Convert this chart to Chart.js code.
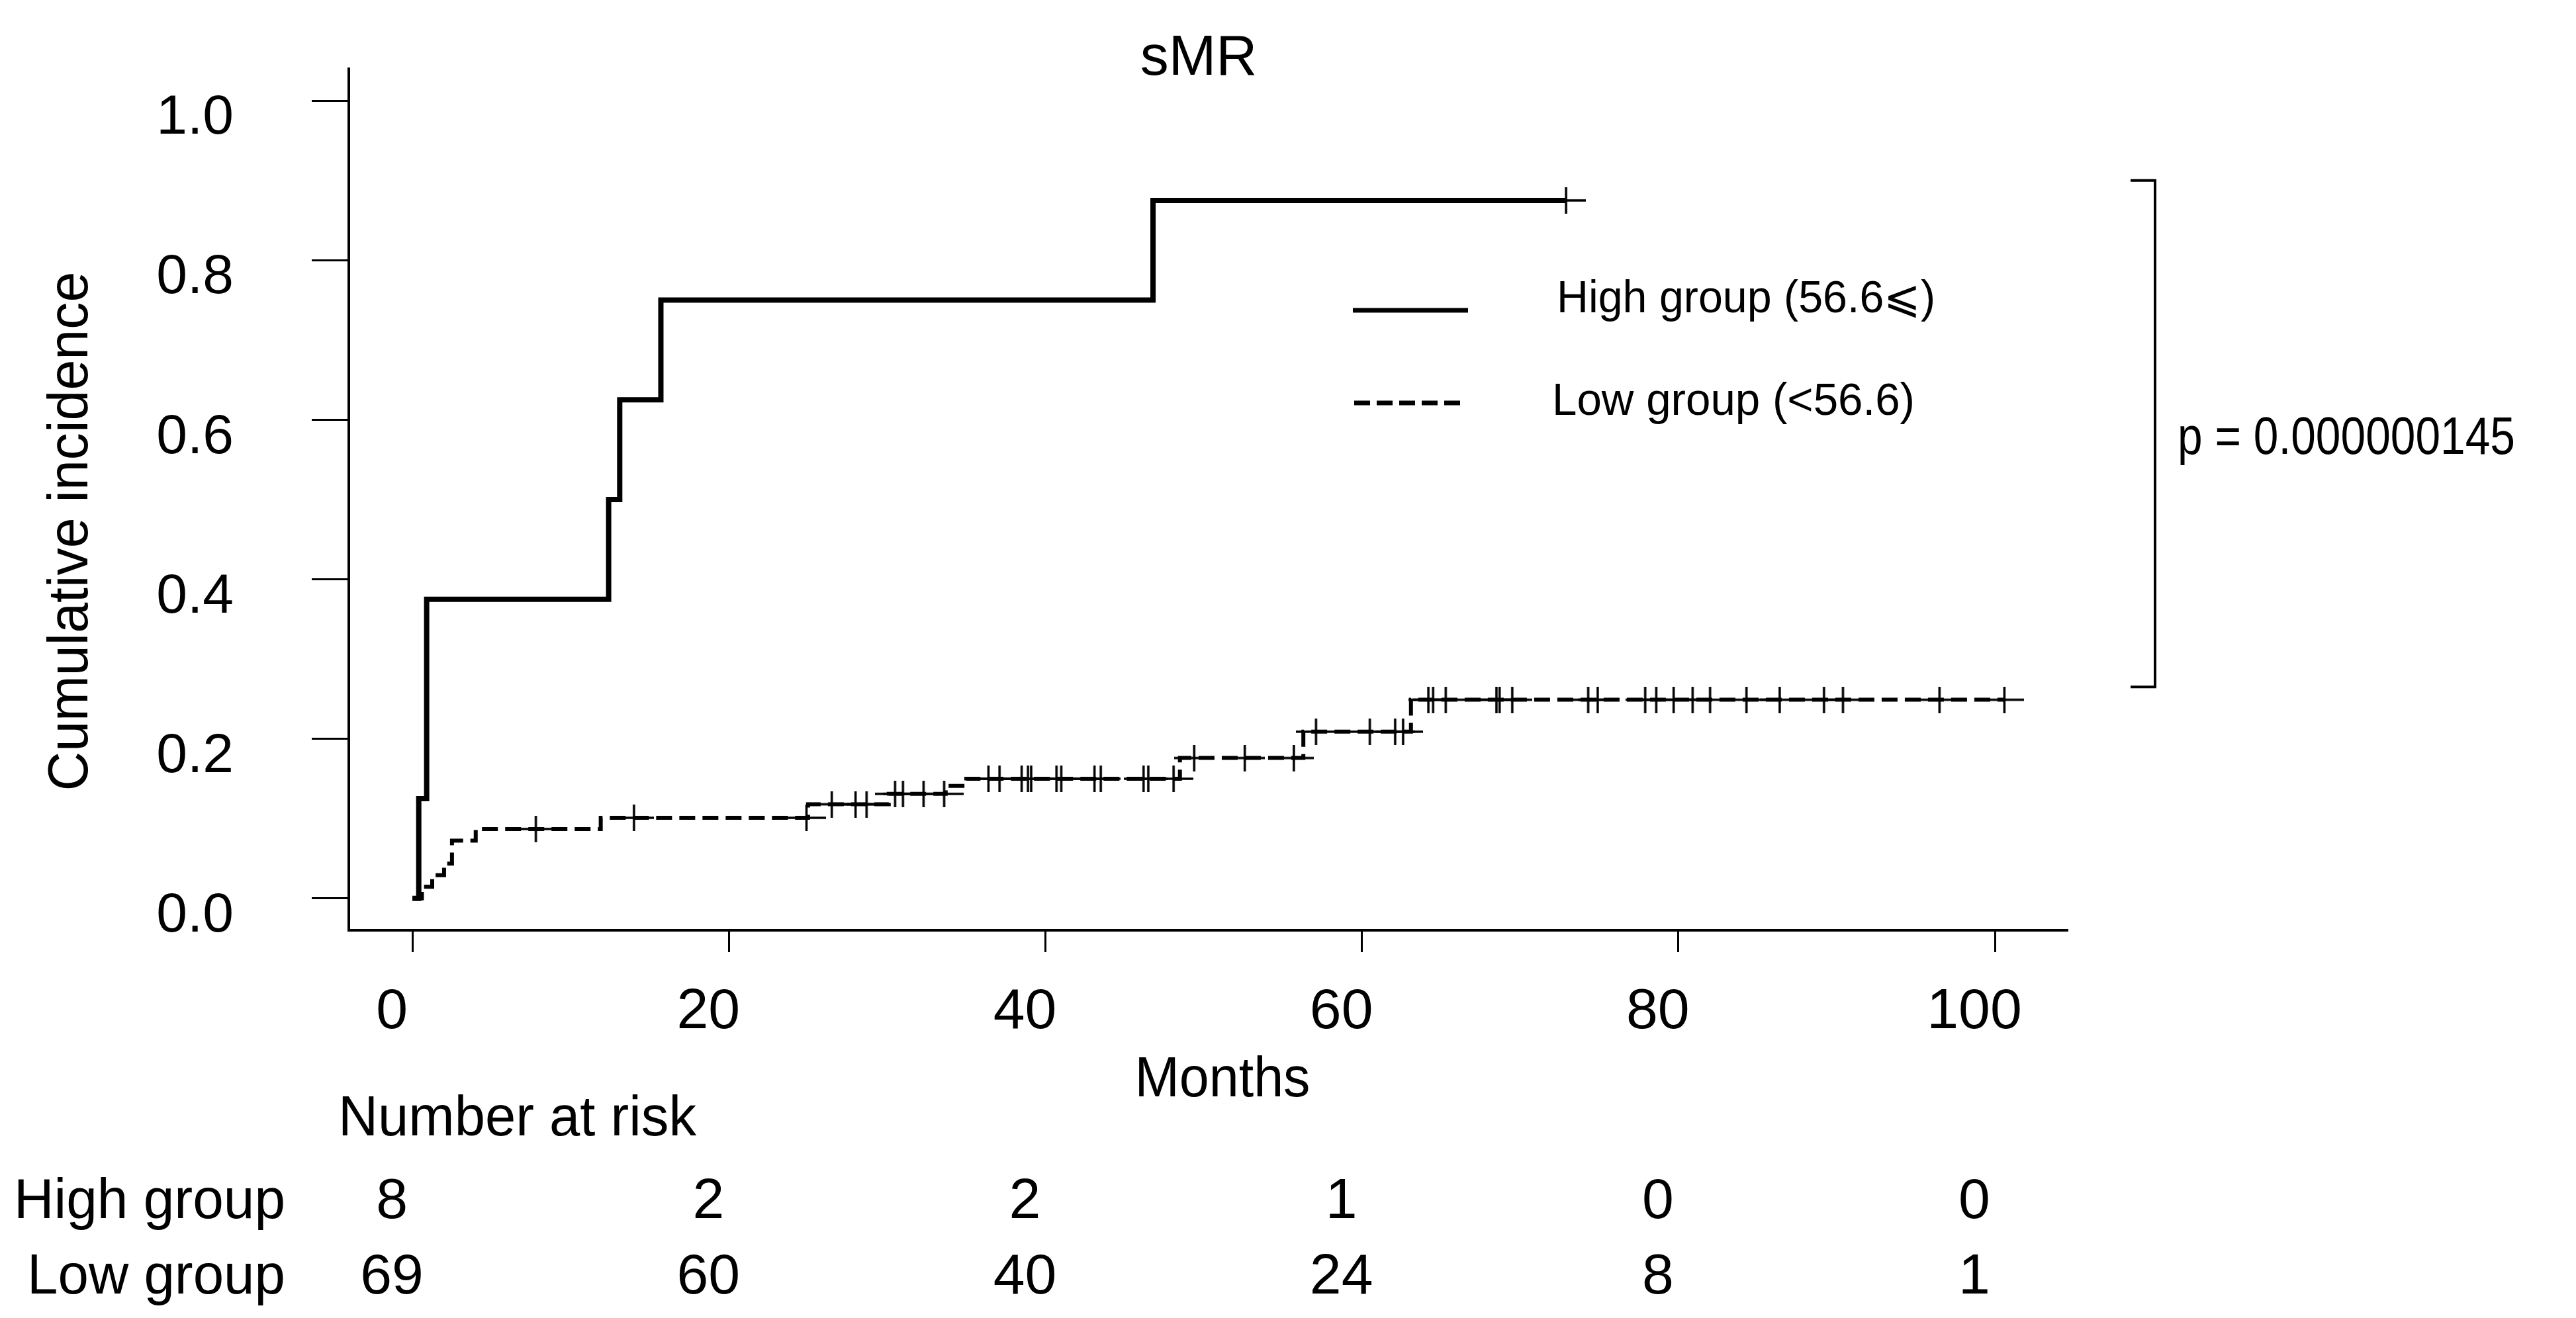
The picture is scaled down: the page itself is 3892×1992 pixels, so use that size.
<!DOCTYPE html>
<html>
<head>
<meta charset="utf-8">
<title>sMR</title>
<script src="https://cdn.jsdelivr.net/npm/chart.js@4.4.1/dist/chart.umd.min.js"></script>
<style>
html, body { margin: 0; padding: 0; background: #fff; }
#chart { display: block; }
</style>
</head>
<body>
<canvas id="chart" width="3892" height="1992"></canvas>
<script>
var xTicks = [0, 20, 40, 60, 80, 100];
var yTicks = [0, 0.2, 0.4, 0.6, 0.8, 1.0];

// High group step curve (time in months, cumulative incidence)
var highTimes = [0, 0.4, 0.9, 12.4, 13.1, 15.7, 46.8, 72.9];
var highInc = [0, 0.125, 0.375, 0.5, 0.625, 0.75, 0.875, 0.875];
var highCensor = [72.9];

// Low group step curve
var lowTimes = [0, 0.6, 1.25, 2.0, 2.5, 4.0, 11.9, 25.0, 30.1, 33.7, 35.0, 48.5, 56.3, 63.1, 100.6];
var lowInc = [0, 0.0145, 0.029, 0.0435, 0.0725, 0.087, 0.101, 0.118, 0.131, 0.141, 0.15, 0.176, 0.209, 0.249, 0.249];
var lowCensor = [7.8, 14.0, 24.9, 26.5, 28.0, 28.7, 30.5, 31.0, 32.3, 33.6, 36.4, 37.1, 38.5, 38.9, 39.1,
    40.7, 41.0, 43.1, 43.5, 46.2, 46.5, 48.1, 49.4, 52.6, 55.7, 57.1, 60.5, 62.1, 62.6, 64.2, 64.5, 65.3,
    68.5, 68.7, 69.5, 74.3, 74.9, 77.9, 78.6, 79.7, 80.9, 82.0, 84.3, 86.4, 89.2, 90.4, 96.5, 100.6];

var riskGroups = ["High group", "Low group"];
var riskHigh = [8, 2, 2, 1, 0, 0];
var riskLow = [69, 60, 40, 24, 8, 1];

var legendLabels = ["High group (56.6\u2A7D)", "Low group (<56.6)"];
var pText = "p = 0.000000145";
var bracketRange = [0.265, 0.9];

var FONT = "'Liberation Sans', Arial, 'DejaVu Sans', sans-serif";

function levelAt(times, inc, t) {
    var v = 0;
    for (var i = 0; i < times.length; i++) {
        if (times[i] <= t) v = inc[i];
    }
    return v;
}

function toPoints(times, inc) {
    var pts = [];
    for (var i = 0; i < times.length; i++) pts.push({ x: times[i], y: inc[i] });
    return pts;
}

function censorPoints(cens, times, inc) {
    return cens.map(function(t) { return { x: t, y: levelAt(times, inc, t) }; });
}

function makeCross() {
    var c = document.createElement("canvas");
    c.width = 60;
    c.height = 40;
    var g = c.getContext("2d");
    g.strokeStyle = "#000";
    g.lineWidth = 3.5;
    g.beginPath();
    g.moveTo(0, 20); g.lineTo(60, 20);
    g.moveTo(30, 0); g.lineTo(30, 40);
    g.stroke();
    return c;
}
var cross = makeCross();

var textPlugin = {
    id: "textPlugin",
    afterDraw: function(chart) {
        var ctx = chart.ctx;
        var xs = chart.scales.x;
        var ys = chart.scales.y;
        ctx.save();
        ctx.fillStyle = "#000";
        ctx.textBaseline = "alphabetic";

        // title
        ctx.font = "86px " + FONT;
        ctx.textAlign = "center";
        ctx.fillText("sMR", 1811, 113);

        // x title
        ctx.fillText("Months", 1847, 1657, 265);

        // y title
        ctx.save();
        ctx.translate(132, 803);
        ctx.rotate(-Math.PI / 2);
        ctx.textAlign = "center";
        ctx.fillText("Cumulative incidence", 0, 0, 785);
        ctx.restore();

        // number at risk
        ctx.textAlign = "left";
        ctx.fillText("Number at risk", 511, 1716, 541);
        ctx.textAlign = "right";
        ctx.fillText(riskGroups[0], 431, 1841, 410);
        ctx.fillText(riskGroups[1], 431, 1955, 390);
        ctx.textAlign = "center";
        for (var i = 0; i < xTicks.length; i++) {
            var px = xs.getPixelForValue(xTicks[i]) - 31;
            ctx.fillText(String(riskHigh[i]), px, 1841);
            ctx.fillText(String(riskLow[i]), px, 1955);
        }

        // legend
        ctx.strokeStyle = "#000";
        ctx.lineWidth = 7;
        ctx.lineCap = "butt";
        ctx.beginPath();
        ctx.moveTo(2044, 469); ctx.lineTo(2218, 469);
        ctx.stroke();
        ctx.setLineDash([24, 10]);
        ctx.beginPath();
        ctx.moveTo(2046, 609); ctx.lineTo(2210, 609);
        ctx.stroke();
        ctx.setLineDash([]);
        ctx.font = "69px " + FONT;
        ctx.textAlign = "left";
        ctx.fillText(legendLabels[0], 2352, 472, 572);
        ctx.fillText(legendLabels[1], 2345, 627, 548);

        // bracket and p value
        var yTop = ys.getPixelForValue(bracketRange[1]);
        var yBot = ys.getPixelForValue(bracketRange[0]);
        ctx.lineWidth = 4;
        ctx.beginPath();
        ctx.moveTo(3219, yTop); ctx.lineTo(3256, yTop);
        ctx.lineTo(3256, yBot); ctx.lineTo(3219, yBot);
        ctx.stroke();
        ctx.font = "80px " + FONT;
        ctx.fillText(pText, 3290, 686, 510);

        ctx.restore();
    }
};

var chart = new Chart(document.getElementById("chart").getContext("2d"), {
    type: "line",
    data: {
        datasets: [{
            label: "High",
            data: toPoints(highTimes, highInc),
            stepped: true,
            borderColor: "#000",
            borderWidth: 8,
            pointRadius: 0,
            fill: false
        }, {
            label: "Low",
            data: toPoints(lowTimes, lowInc),
            stepped: true,
            borderColor: "#000",
            borderWidth: 6,
            borderDash: [24, 11],
            pointRadius: 0,
            fill: false
        }, {
            label: "High censored",
            data: censorPoints(highCensor, highTimes, highInc),
            showLine: false,
            pointStyle: cross,
            pointRadius: 20
        }, {
            label: "Low censored",
            data: censorPoints(lowCensor, lowTimes, lowInc),
            showLine: false,
            pointStyle: cross,
            pointRadius: 20
        }]
    },
    options: {
        responsive: false,
        animation: false,
        devicePixelRatio: 1,
        layout: { padding: { left: 0, right: 768, top: 104, bottom: 0 } },
        plugins: {
            legend: { display: false },
            tooltip: { enabled: false },
            title: { display: false }
        },
        scales: {
            x: {
                type: "linear",
                min: -4.02,
                max: 104.6,
                afterBuildTicks: function(s) { s.ticks = xTicks.map(function(v) { return { value: v }; }); },
                afterFit: function(s) { s.height = 586; s.paddingLeft = 0; s.paddingRight = 0; },
                ticks: {
                    color: "#000",
                    font: { family: FONT, size: 86 },
                    labelOffset: -31,
                    padding: 40,
                    maxRotation: 0,
                    autoSkip: false,
                    callback: function(v) { return String(v); }
                },
                grid: {
                    drawOnChartArea: false,
                    drawTicks: true,
                    tickLength: 33,
                    tickWidth: 3,
                    tickColor: "#000"
                },
                border: { display: true, color: "#000", width: 4 }
            },
            y: {
                type: "linear",
                min: -0.04,
                max: 1.04,
                afterBuildTicks: function(s) { s.ticks = yTicks.map(function(v) { return { value: v }; }); },
                afterFit: function(s) { s.width = 527; s.paddingTop = 0; s.paddingBottom = 0; },
                ticks: {
                    color: "#000",
                    font: { family: FONT, size: 84 },
                    labelOffset: 27,
                    padding: 118,
                    callback: function(v) { return v.toFixed(1); }
                },
                grid: {
                    drawOnChartArea: false,
                    drawTicks: true,
                    tickLength: 56,
                    tickWidth: 3,
                    tickColor: "#000"
                },
                border: { display: true, color: "#000", width: 4 }
            }
        }
    },
    plugins: [textPlugin]
});
</script>
</body>
</html>
